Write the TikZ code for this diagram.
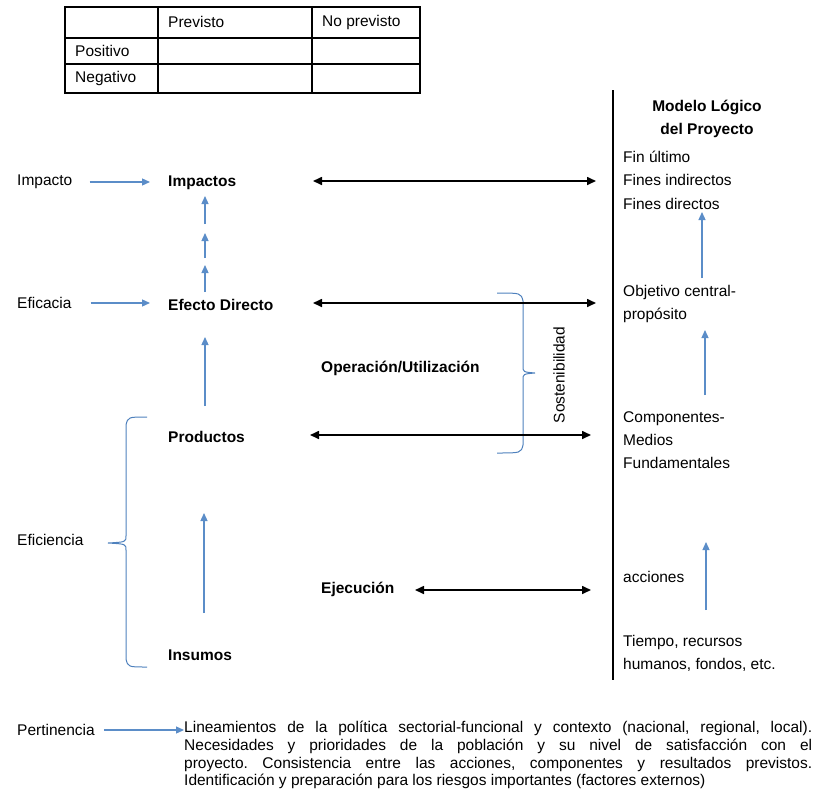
\documentclass[tikz,border=0pt]{standalone}
\usepackage{fontspec}
\setmainfont{Liberation Sans}
\usetikzlibrary{arrows.meta,positioning}

\definecolor{flecha}{RGB}{91,141,200}
\definecolor{llave}{RGB}{79,129,189}

\begin{document}
\frenchspacing
\begin{tikzpicture}[x=1pt,y=-1pt,
    every node/.style={inner sep=1pt, font=\fontsize{15.5}{18}\selectfont},
    etiqueta/.style={anchor=west, align=left},
    nivel/.style={anchor=west, font=\fontsize{15.5}{18}\selectfont\bfseries},
    azul/.style={draw=flecha, line width=1.3pt, -{Triangle[width=7pt,length=8pt]}},
    doble/.style={line width=1.6pt, {Triangle[width=8pt,length=9pt]}-{Triangle[width=8pt,length=9pt]}},
    llaveazul/.style={draw=llave, line width=1pt}]

    \useasboundingbox (0,0) rectangle (815,796);

    % Draw the table of effects
    \draw[line width=1.2pt] (65,7) rectangle (420,93);
    \draw[line width=1.2pt] (65,38) -- (420,38) (65,64) -- (420,64);
    \draw[line width=1.2pt] (158,7) -- (158,93) (312,7) -- (312,93);
    \node[etiqueta] (prev) at (167,22) {Previsto};
    \node[etiqueta] (noprev) at (321,22) {No previsto};
    \node[etiqueta] (pos) at (74,51) {Positivo};
    \node[etiqueta] (neg) at (74,78) {Negativo};

    % Draw the criteria on the left and the levels
    \node[etiqueta] (impacto) at (16,182) {Impacto};
    \node[etiqueta] (eficacia) at (16,303) {Eficacia};
    \node[etiqueta] (eficiencia) at (16,540) {Eficiencia};

    \node[nivel] (impactos) at (167,183) {Impactos};
    \node[nivel] (efecto) at (167,305) {Efecto Directo};
    \node[nivel] (productos) at (167,437) {Productos};
    \node[nivel] (insumos) at (167,655) {Insumos};

    \node[nivel] (operacion) at (320,368) {Operación/Utilización};
    \node[nivel] (ejecucion) at (320,589) {Ejecución};
    \node[rotate=90] (sosten) at (559,375) {Sostenibilidad};

    \draw[azul, shorten <=16pt, shorten >=17pt] (impacto.east) -- (impacto.east -| impactos.west);
    \draw[azul, shorten <=18pt, shorten >=17pt] (eficacia.east) -- (eficacia.east -| efecto.west);

    % Chain of small arrows up to the impacts
    \foreach \ya/\yb in {292/265, 258/233, 224/196}
        \draw[azul] (205,\ya) -- (205,\yb);
    \draw[azul] (205,406) -- (205,337);
    \draw[azul] (204,613) -- (204,513);

    % Braces
    \draw[llaveazul] (497,293) .. controls (521,293) .. (523,301) -- (523,366)
        .. controls (523,372) .. (535,373) .. controls (523,374) .. (523,380)
        -- (523,445) .. controls (521,453) .. (497,453);
    \draw[llaveazul] (147,417) .. controls (128,417) .. (126,425) -- (126,536)
        .. controls (126,542) .. (108,543) .. controls (126,544) .. (126,550)
        -- (126,659) .. controls (128,667) .. (147,667);

    % Draw the right column (logical model)
    \draw[line width=1.2pt] (613,90) -- (613,680);
    \node[align=center, font=\fontsize{15.5}{23}\selectfont\bfseries] (modelo) at (707,119) {Modelo Lógico\\del Proyecto};
    \node[etiqueta, font=\fontsize{15.5}{23.5}\selectfont] (fines) at (622,180) {Fin último\\Fines indirectos\\Fines directos};
    \node[etiqueta, font=\fontsize{15.5}{23.5}\selectfont] (objetivo) at (622,304) {Objetivo central-\\propósito};
    \node[etiqueta, font=\fontsize{15.5}{23}\selectfont] (componentes) at (622,440) {Componentes-\\Medios\\Fundamentales};
    \node[etiqueta] (acciones) at (622,577) {acciones};
    \node[etiqueta, font=\fontsize{15.5}{23}\selectfont] (tiempo) at (622,653) {Tiempo, recursos\\humanos, fondos, etc.};

    \draw[azul] (702,278) -- (702,212);
    \draw[azul] (705,395) -- (705,330);
    \draw[azul] (706,610) -- (706,542);

    % Double arrows between the levels and the model
    \coordinate (d1) at (313,181);
    \coordinate (d2) at (313,303);
    \coordinate (d3) at (310,435);
    \coordinate (d4) at (415,590);
    \draw[doble] (d1) -- (d1 -| 596,0);
    \draw[doble] (d2) -- (d2 -| 596,0);
    \draw[doble] (d3) -- (d3 -| 591,0);
    \draw[doble] (d4) -- (d4 -| 591,0);

    % Relevance
    \node[etiqueta] (pertinencia) at (16,730) {Pertinencia};
    \node[anchor=north west, text width=628pt, align=justify, inner sep=0pt,
          font=\fontsize{15.5}{17.7}\selectfont] (lineas) at (184,721)
        {Lineamientos de la política sectorial-funcional y contexto (nacional, regional, local).\linebreak
         Necesidades y prioridades de la población y su nivel de satisfacción con el\linebreak
         proyecto. Consistencia entre las acciones, componentes y resultados previstos.\linebreak
         Identificación y preparación para los riesgos importantes (factores externos)};
    \draw[azul, shorten <=8pt] (pertinencia.east) -- (pertinencia.east -| lineas.west);
\end{tikzpicture}
\end{document}
